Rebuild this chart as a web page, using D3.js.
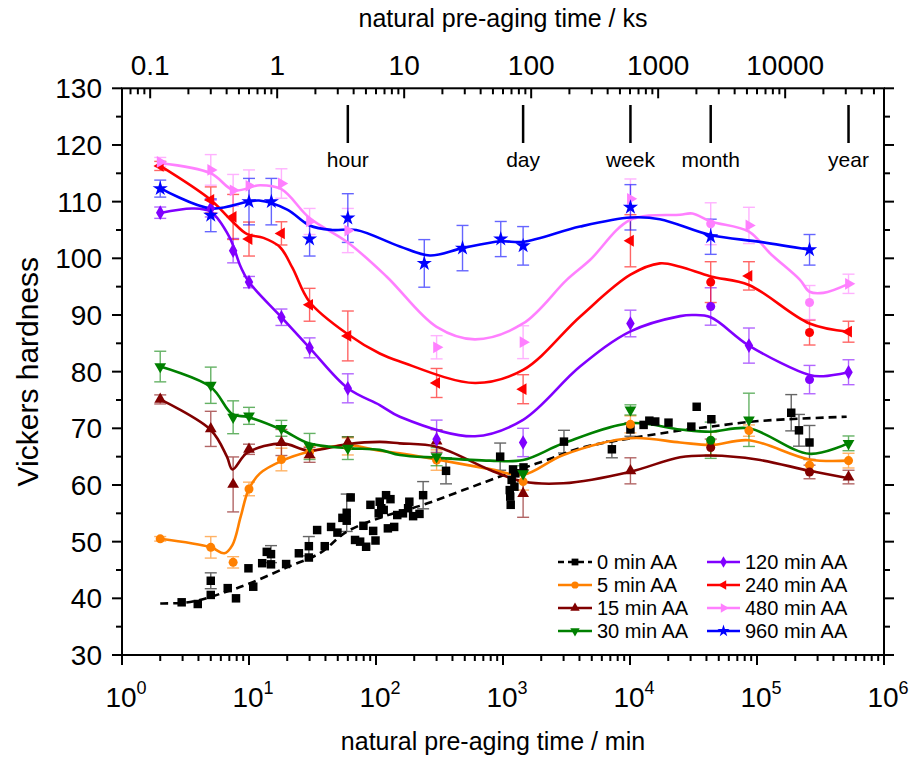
<!DOCTYPE html>
<html><head><meta charset="utf-8">
<script src="https://cdn.jsdelivr.net/npm/d3@7"></script>
<style>body{margin:0;background:#fff}svg{font-family:"Liberation Sans",Arial,sans-serif}</style>
</head><body><svg id="c" width="909" height="760"></svg>
<script>
// ---------------- DATA ----------------
const seriesNames = ["0 min AA","5 min AA","15 min AA","30 min AA","120 min AA","240 min AA","480 min AA","960 min AA"];
// 0 min AA (measured points, minutes)
const t0 = [2.95,3.95,5,5,6.8,7.9,9.9,10.8,12.7,13.8,14.9,14.9,19.6,24.7,29.6,29.6,34.4,39.5,44.3,49.7,54.4,58.8,58.8,63.2,68.4,75,79.6,83.6,90.4,95,99.1,105,107,110,115,120,124,130,139,147,163,179,183,196,220,235,356,950,1130,1140,1150,1170,1200,1230,1250,1450,3020,7200,10080,12800,14200,15800,20100,30400,33500,43700,186000,214000,259000];
const hv0 = [39.3,39.0,40.6,43.1,41.8,40.0,45.3,42.05,46.2,48.2,47.8,46.0,46.05,47.95,49.2,47.2,52.05,49.2,52.6,51.6,54.2,55.1,53.7,57.8,50.3,50.0,52.8,49.1,56.5,51.9,50.2,55.0,57.05,55.9,55.6,58.2,52.35,57.5,52.6,54.7,55.0,55.9,57.05,54.5,54.9,58.2,62.5,65.0,59.1,57.95,56.5,60.9,62.75,59.7,62.05,63.1,67.65,66.3,69.8,70.6,71.35,71.2,71.0,70.3,73.8,71.6,72.75,69.65,67.5];
const err0 = [0,0,0,1.4,0,0,0,0,0,0, 1.5,0,0,0,1.7,0,0,0,0,0, 0,3.3,0,0,0,0,0,0,0,0, 0,0,0,0,0,0,0,0,0,0, 0,0,0,0,0,2.4,2.3,2.4,0,0, 0,0,0,0,0,0,2.0,1.5,1.2,0, 0,0,0,0,0,0,3.2,2.8,3.0];
const fitT0 = [2,3,4.1,6.7,10.2,20,36,58.8,114,235,487,1206,2208,4040,10080,24800,43200,105700,508000];
const fitV0 = [39.1,39.2,39.7,41.2,42.65,45.5,47.95,51.75,54.4,56.5,59.1,62.35,64.4,66.5,68.25,69.6,70.3,71.3,72.05];

// 5 min AA
const t5 = [2,5,7.5,10,18,30,60,300,1440,10080,43200,86400,259200,525600];
const hv5 = [50.5,49.0,46.35,59.3,64.5,65.8,66.8,64.4,60.6,70.7,67.3,69.6,63.5,64.3];
const err5 = [0.4,1.9,1.0,1.2,2.0,1.0,1.5,1.8,1.5,1.5,2.0,1.0,1.0,1.3];
const fitT5 = [2,5,6.4,7.4,8.6,9.9,12.2,18.3,30,58.8,107,154,300,790,1440,2985,10080,24800,43200,86400,259200,525600];
const fitV5 = [50.5,49.0,47.95,49.4,54.4,59.1,62.05,64.3,65.9,67.05,66.05,65.6,64.5,62.8,61.8,65.3,68.25,67.5,67.05,67.9,64.5,64.3];

// 15 min AA
const t15 = [2,5,7.5,10,18,30,60,300,1440,10080,43200,259200,525600];
const hv15 = [75.1,69.9,60.1,66.3,67.5,65.3,67.5,67.75,58.5,62.5,66.6,62.3,61.4];
const err15 = [0.8,3.1,4.85,0.9,2.3,1.3,1.0,2.0,4.2,2.3,1.5,1.2,1.2];
const fitT15 = [2,5,6.7,7.4,9.7,18.3,29.6,58.8,107,154,300,790,1440,2985,10080,24800,43200,100000,259200,525600];
const fitV15 = [75.1,69.7,65.0,62.75,65.7,67.35,66.05,67.2,67.6,67.35,66.75,62.65,60.6,60.3,62.35,64.9,65.2,64.5,62.5,61.2];

// 30 min AA
const t30 = [2,5,7.5,10,18,30,60,300,1440,10080,43200,86400,525600];
const hv30 = [80.9,77.6,71.95,72.2,70.0,66.8,66.5,65.0,62.0,73.25,67.9,71.5,67.35];
const err30 = [2.7,3.2,2.9,1.5,1.4,2.3,2.0,1.6,1.4,0.9,3.2,4.7,1.3];
const fitT30 = [2,5,7.4,9.8,18.3,29.6,58.8,107,154,300,790,1440,2985,10080,24800,43200,86400,259200,525600];
const fitV30 = [80.9,77.3,72.5,72.0,69.7,67.35,66.5,66.2,65.3,64.8,64.3,64.4,67.35,70.9,69.8,69.4,70.0,65.5,67.4];

// 120 min AA
const t120 = [2,5,7.5,10,18,30,60,300,1440,10080,43200,86400,259200,525600];
const hv120 = [108.05,108.8,101.35,95.8,89.6,84.2,77.06,68.05,67.5,88.5,91.5,84.6,78.6,79.9];
const err120 = [1.0,1.5,2.15,1.0,1.45,1.76,2.56,3.4,2.5,2.35,3.3,3.1,2.5,2.2];
const fitT120 = [2,3.6,5,7,8.6,10,18,30,60,107,154,602,1440,4040,10080,24800,31500,43200,86400,259200,333000,525600];
const fitV120 = [108,108.8,108.2,103.8,98.5,95.8,89.6,84.2,77.06,74.1,72.05,68.6,71.5,80.9,87.1,89.8,90.0,89.6,84.6,79.4,79.2,79.9];

// 240 min AA
const t240 = [2,5,7.5,10,18,30,60,300,1440,10080,43200,86400,259200,525600];
const hv240 = [116.3,110.3,107.3,103.4,104.4,91.8,86.3,78.0,76.9,103.1,95.8,96.9,86.9,87.05];
const err240 = [0.8,2.3,3.97,3.0,2.05,2.9,4.4,2.56,2.56,4.6,3.6,2.5,2.2,1.85];
const fitT240 = [2,5,7.4,9.6,13,17.5,22,30,60,107,154,602,1440,4040,10080,17200,24800,43200,86400,259200,525600];
const fitV240 = [116.3,110.3,106.5,104.3,103.6,102.0,98.3,92.3,86.6,83.2,81.8,78.0,80.3,89.7,97.1,99.1,98.5,96.8,95.3,88.5,87.05];

// 480 min AA
const t480 = [2,5,7.5,10,18,30,60,300,1440,10080,43200,86400,259200,525600];
const hv480 = [117.0,115.6,112.0,112.8,113.2,106.5,104.9,84.3,85.2,110.5,106.1,105.8,92.2,95.5];
const err480 = [0.8,2.7,2.8,2.8,2.6,2.3,3.9,2.05,2.9,3.5,3.7,3.2,3.0,1.7];
const fitT480 = [2,5,7.6,12.2,18,30,60,121,300,602,1440,3175,4840,10080,24800,31000,43200,86400,126500,218000,259200,333000,525600];
const fitV480 = [116.8,115.0,112.0,112.9,112.2,107.1,102.8,96.8,87.9,85.7,88.5,96.2,99.7,106.8,107.7,107.9,106.5,104.7,100.9,96.2,94.1,93.9,95.5];

// 960 min AA
const t960 = [2,5,10,15,30,60,240,480,960,1440,10080,43200,259200];
const hv960 = [112.3,107.6,110.0,110.0,103.4,107.1,99.1,101.8,103.4,102.2,109.0,103.8,101.5];
const err960 = [1.5,2.9,4.1,4.1,3.0,4.3,4.2,4.0,3.1,3.4,4.0,3.1,2.7];
const fitT960 = [2,5,12,20,30,45,70,154,266,480,960,1440,4040,10080,17200,43200,105700,259200];
const fitV960 = [112.4,108.8,110.2,108.6,105.8,105.0,105.0,102.1,100.5,101.8,103.0,102.9,105.6,107.2,106.9,104.1,102.9,101.5];

// time markers (minutes)
const eventNames = ["hour","day","week","month","year"];
const eventTimes = [60,1440,10080,43200,525600];
// axis ticks
const yTicks = [30,40,50,60,70,80,90,100,110,120,130];
const xDecades = [0,1,2,3,4,5,6];
const ksTicks = [0.1,1,10,100,1000,10000];
const ksLabels = ["0.1","1","10","100","1000","10000"];
// points drawn as circles in otherwise non-circle series
const circleTimes = [43200,259200];

// ---------------- STYLE ----------------
const colors = ["#000000","#FF8000","#800000","#008000","#8000FF","#FF0000","#FF80FF","#0000FF"];
const symbols = ["square","circle","up","down","diamond","left","right","star"];
const tArr = [t0,t5,t15,t30,t120,t240,t480,t960];
const vArr = [hv0,hv5,hv15,hv30,hv120,hv240,hv480,hv960];
const eArr = [err0,err5,err15,err30,err120,err240,err480,err960];
const ftArr = [fitT0,fitT5,fitT15,fitT30,fitT120,fitT240,fitT480,fitT960];
const fvArr = [fitV0,fitV5,fitV15,fitV30,fitV120,fitV240,fitV480,fitV960];

const svg = d3.select("#c");
const L=122,R=884,T=88.3,B=655;
const x = d3.scaleLog().domain([1,1e6]).range([L,R]);
const xKs = d3.scaleLog().domain([0.06,60000]).range([L,R]);
const y = d3.scaleLinear().domain([30,130]).range([B,T]);

function marker(g, type, cx, cy, color, scale){
  scale = scale||1;
  let sym, rot=0, size;
  switch(type){
    case "square": sym=d3.symbolSquare; size=72; break;
    case "circle": sym=d3.symbolCircle; size=64; break;
    case "up": sym=d3.symbolTriangle; size=60; break;
    case "down": sym=d3.symbolTriangle; size=60; rot=180; break;
    case "left": sym=d3.symbolTriangle; size=60; rot=-90; break;
    case "right": sym=d3.symbolTriangle; size=60; rot=90; break;
    case "diamond": sym=d3.symbolDiamond; size=62; break;
    case "star": sym=d3.symbolStar; size=72; break;
  }
  g.append("path").attr("d", d3.symbol().type(sym).size(size*scale*scale)())
    .attr("transform", `translate(${cx},${cy}) rotate(${rot})`)
    .attr("fill", color);
}

// frame
svg.append("rect").attr("x",L).attr("y",T).attr("width",R-L).attr("height",B-T)
  .attr("fill","none").attr("stroke","#000").attr("stroke-width",2);

const ax = svg.append("g").attr("stroke","#000").attr("stroke-width",2);
// y ticks left/right
d3.range(30,130.1,5).forEach(v=>{
  const major = v%10===0, len = major?10:6;
  ax.append("line").attr("x1",L).attr("x2",L-len).attr("y1",y(v)).attr("y2",y(v));
  ax.append("line").attr("x1",R).attr("x2",R+len).attr("y1",y(v)).attr("y2",y(v));
});
yTicks.forEach(v=>{
  svg.append("text").attr("x",102).attr("y",y(v)).attr("dy","0.36em")
    .attr("text-anchor","end").attr("font-size",28).text(v);
});
// bottom ticks
xDecades.forEach(k=>{
  const v=Math.pow(10,k);
  ax.append("line").attr("x1",x(v)).attr("x2",x(v)).attr("y1",B).attr("y2",B+10);
  if(k<6) for(let m=2;m<=9;m++){
    const xv=x(m*v);
    ax.append("line").attr("x1",xv).attr("x2",xv).attr("y1",B).attr("y2",B+6);
  }
  const t = svg.append("text").attr("x",x(v)+4).attr("y",707).attr("text-anchor","middle").attr("font-size",28);
  t.append("tspan").text("10");
  t.append("tspan").attr("dy",-13).attr("font-size",18).text(k);
});
// top ks ticks (inward)
for(let k=-2;k<=4;k++){
  for(let m=1;m<=9;m++){
    const v=m*Math.pow(10,k);
    if(v<=0.06||v>=60000) continue;
    const len = m===1?10:6;
    ax.append("line").attr("x1",xKs(v)).attr("x2",xKs(v)).attr("y1",T).attr("y2",T+len);
  }
}
ksTicks.forEach((v,i)=>{
  svg.append("text").attr("x",xKs(v)).attr("y",75).attr("text-anchor","middle")
    .attr("font-size",28).text(ksLabels[i]);
});
// titles
svg.append("text").attr("x",(L+R)/2).attr("y",27).attr("text-anchor","middle").attr("font-size",25)
  .text("natural pre-aging time / ks");
svg.append("text").attr("x",(L+R)/2-10).attr("y",750).attr("text-anchor","middle").attr("font-size",25)
  .text("natural pre-aging time / min");
svg.append("text").attr("transform",`translate(38,${(T+B)/2}) rotate(-90)`).attr("text-anchor","middle")
  .attr("font-size",30).text("Vickers hardness");

// event markers
eventTimes.forEach((t,i)=>{
  svg.append("line").attr("x1",x(t)).attr("x2",x(t)).attr("y1",105).attr("y2",143)
    .attr("stroke","#000").attr("stroke-width",2.5);
  svg.append("text").attr("x",x(t)).attr("y",167).attr("text-anchor","middle").attr("font-size",21).text(eventNames[i]);
});

// error bars
const eg = svg.append("g");
tArr.forEach((ts,s)=>{
  ts.forEach((t,i)=>{
    const e=eArr[s][i]; if(!e) return;
    const cx=x(t), y1=y(vArr[s][i]-e), y2=y(vArr[s][i]+e);
    const g=eg.append("g").attr("stroke",colors[s]).attr("stroke-width",1.4).attr("opacity",0.6);
    g.append("line").attr("x1",cx).attr("x2",cx).attr("y1",y1).attr("y2",y2);
    g.append("line").attr("x1",cx-6).attr("x2",cx+6).attr("y1",y1).attr("y2",y1);
    g.append("line").attr("x1",cx-6).attr("x2",cx+6).attr("y1",y2).attr("y2",y2);
  });
});
// fit curves
const line = d3.line().x(d=>x(d[0])).y(d=>y(d[1])).curve(d3.curveCatmullRom.alpha(0.5));
ftArr.forEach((ft,s)=>{
  svg.append("path").attr("d", line(ft.map((t,i)=>[t,fvArr[s][i]])))
    .attr("fill","none").attr("stroke",colors[s]).attr("stroke-width",2.6)
    .attr("stroke-dasharray", s===0?"8,5":null);
});
// markers
const mg = svg.append("g");
tArr.forEach((ts,s)=>{
  ts.forEach((t,i)=>{
    let type = symbols[s];
    if(s>=2 && s<=6 && circleTimes.includes(t)) type="circle";
    marker(mg, type, x(t), y(vArr[s][i]), colors[s]);
  });
});

// legend
const lg = svg.append("g");
const rowY = [562,585,608,631];
seriesNames.forEach((n,s)=>{
  const col = s<4?0:1, r=s%4;
  const x1 = col?707:558, x2 = col?740:592, ty=rowY[r];
  lg.append("line").attr("x1",x1).attr("x2",x2).attr("y1",ty).attr("y2",ty)
    .attr("stroke",colors[s]).attr("stroke-width",2.6).attr("stroke-dasharray", s===0?"6,4":null);
  marker(lg, symbols[s], (x1+x2)/2, ty, colors[s], 0.8);
  lg.append("text").attr("x",x2+5).attr("y",ty).attr("dy","0.36em").attr("font-size",20).text(n);
});
</script></body></html>
